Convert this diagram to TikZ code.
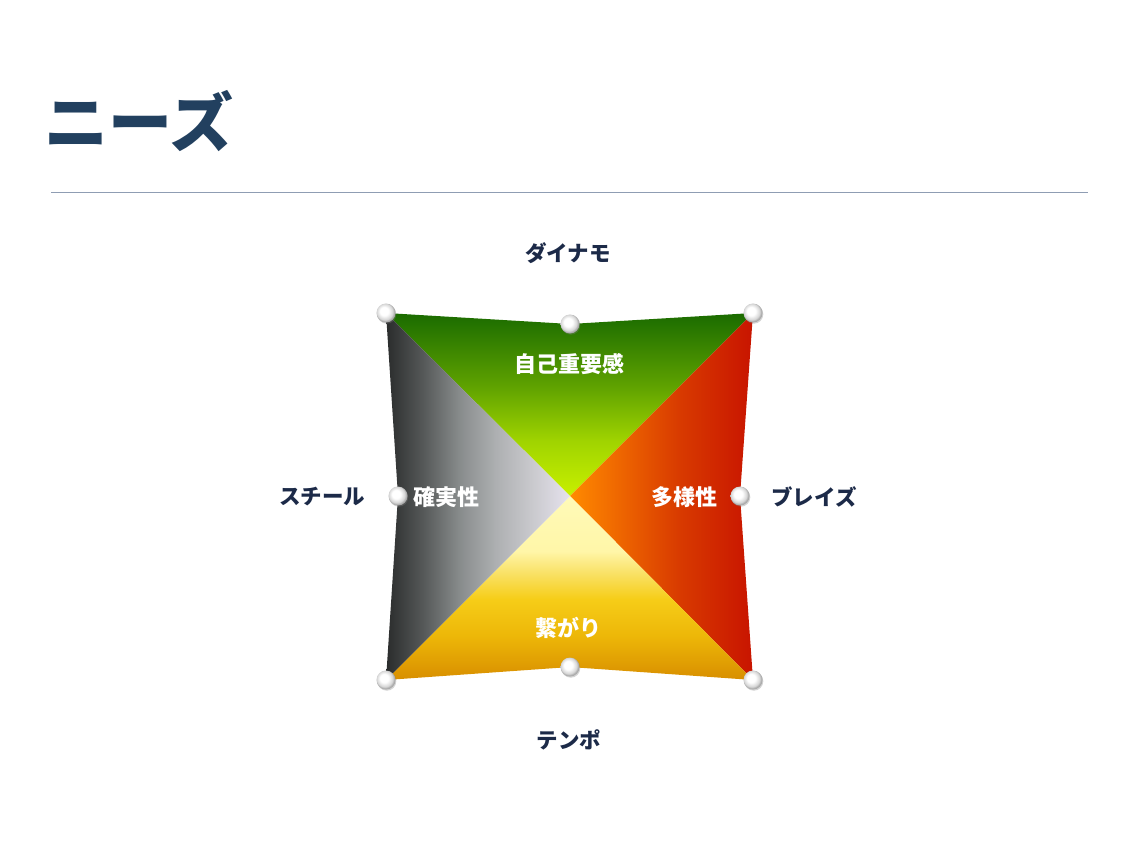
\documentclass[tikz,border=0pt]{standalone}
\usepackage{fontspec}
\newfontfamily\jp{Noto Sans CJK JP}
\usetikzlibrary{positioning,shadows}
\definecolor{titleblue}{HTML}{22405F}
\definecolor{rulegray}{HTML}{8F9DB3}
\definecolor{labelnavy}{HTML}{1C2A48}
\pgfdeclareverticalshading{jikoshade}{100bp}{color(0bp)=(rgb,255:red,200;green,240;blue,0); color(25bp)=(rgb,255:red,200;green,240;blue,0); color(40bp)=(rgb,255:red,160;green,212;blue,0); color(55bp)=(rgb,255:red,95;green,162;blue,0); color(75bp)=(rgb,255:red,26;green,107;blue,0); color(100bp)=(rgb,255:red,26;green,107;blue,0)}
\pgfdeclarehorizontalshading{tayoshade}{100bp}{color(0bp)=(rgb,255:red,255;green,138;blue,0); color(25bp)=(rgb,255:red,255;green,138;blue,0); color(40bp)=(rgb,255:red,236;green,98;blue,0); color(55bp)=(rgb,255:red,216;green,58;blue,0); color(75bp)=(rgb,255:red,200;green,20;blue,0); color(100bp)=(rgb,255:red,200;green,20;blue,0)}
\pgfdeclareverticalshading{tsunashade}{100bp}{color(0bp)=(rgb,255:red,216;green,142;blue,0); color(25bp)=(rgb,255:red,216;green,142;blue,0); color(37bp)=(rgb,255:red,237;green,183;blue,8); color(47bp)=(rgb,255:red,246;green,205;blue,24); color(55bp)=(rgb,255:red,250;green,228;blue,112); color(60bp)=(rgb,255:red,255;green,246;blue,168); color(75bp)=(rgb,255:red,255;green,250;blue,184); color(100bp)=(rgb,255:red,255;green,250;blue,184)}
\pgfdeclarehorizontalshading{kakushade}{100bp}{color(0bp)=(rgb,255:red,42;green,44;blue,44); color(25bp)=(rgb,255:red,42;green,44;blue,44); color(35bp)=(rgb,255:red,85;green,88;blue,88); color(45bp)=(rgb,255:red,136;green,140;blue,140); color(55bp)=(rgb,255:red,174;green,176;blue,178); color(65bp)=(rgb,255:red,202;green,202;blue,206); color(75bp)=(rgb,255:red,230;green,226;blue,238); color(100bp)=(rgb,255:red,230;green,226;blue,238)}
\pgfdeclareradialshading{knobshade}{\pgfpoint{-6bp}{6bp}}{color(0bp)=(white); color(11bp)=(white); color(21bp)=(black!16); color(25bp)=(black!34); color(50bp)=(black!34)}
\tikzset{
  knob/.style={circle,minimum size=19pt,inner sep=0pt,shading=knobshade,drop shadow={shadow xshift=0.8pt,shadow yshift=-1.2pt,opacity=.35}},
  outer/.style={text=labelnavy,font=\jp\bfseries\fontsize{21.5}{25}\selectfont},
  inner/.style={text=white,font=\jp\bfseries\fontsize{22}{26}\selectfont}
}
\begin{document}
\begin{tikzpicture}[x=1pt,y=-1pt]
\useasboundingbox (0,0) rectangle (1140,854);
\node[anchor=west,inner sep=0pt,text=titleblue,font=\jp\bfseries\fontsize{64}{72}\selectfont] (title) at (44,121) {ニーズ};
\coordinate (rl) at (51,192);
\coordinate (rr) at (1088,192);
\draw[rulegray,line width=1pt] (rl) -- (rr);
\coordinate (tl) at (386,313);
\coordinate (tr) at (753,313);
\coordinate (bl) at (386,680);
\coordinate (br) at (753,680);
\coordinate (tm) at (570,324);
\coordinate (bm) at (570,667);
\coordinate (lm) at (398,496);
\coordinate (rm) at (740,496);
\coordinate (c) at (570,496);
\begin{scope}
\shade[shading=jikoshade] (tl) -- (tm) -- (tr) -- (c) -- cycle;
\shade[shading=tayoshade] (tr) -- (rm) -- (br) -- (c) -- cycle;
\shade[shading=tsunashade] (br) -- (bm) -- (bl) -- (c) -- cycle;
\shade[shading=kakushade] (bl) -- (lm) -- (tl) -- (c) -- cycle;
\end{scope}
\node[knob] (ktl) at (tl) {};
\node[knob] (ktr) at (tr) {};
\node[knob] (kbl) at (bl) {};
\node[knob] (kbr) at (br) {};
\node[knob] (ktm) at (tm) {};
\node[knob] (kbm) at (bm) {};
\node[knob] (klm) at (lm) {};
\node[knob] (krm) at (rm) {};
\node[inner] (jiko) at (569,364) {自己重要感};
\node[inner] (kaku) at (446,497) {確実性};
\node[inner] (tayo) at (684,497) {多様性};
\node[inner] (tsuna) at (568,628) {繋がり};
\node[outer] (dynamo) at (568,253) {ダイナモ};
\node[outer] (steel) at (322,497) {スチール};
\node[outer] (blaze) at (814,497) {ブレイズ};
\node[outer] (tempo) at (569,740) {テンポ};
\end{tikzpicture}
\end{document}
